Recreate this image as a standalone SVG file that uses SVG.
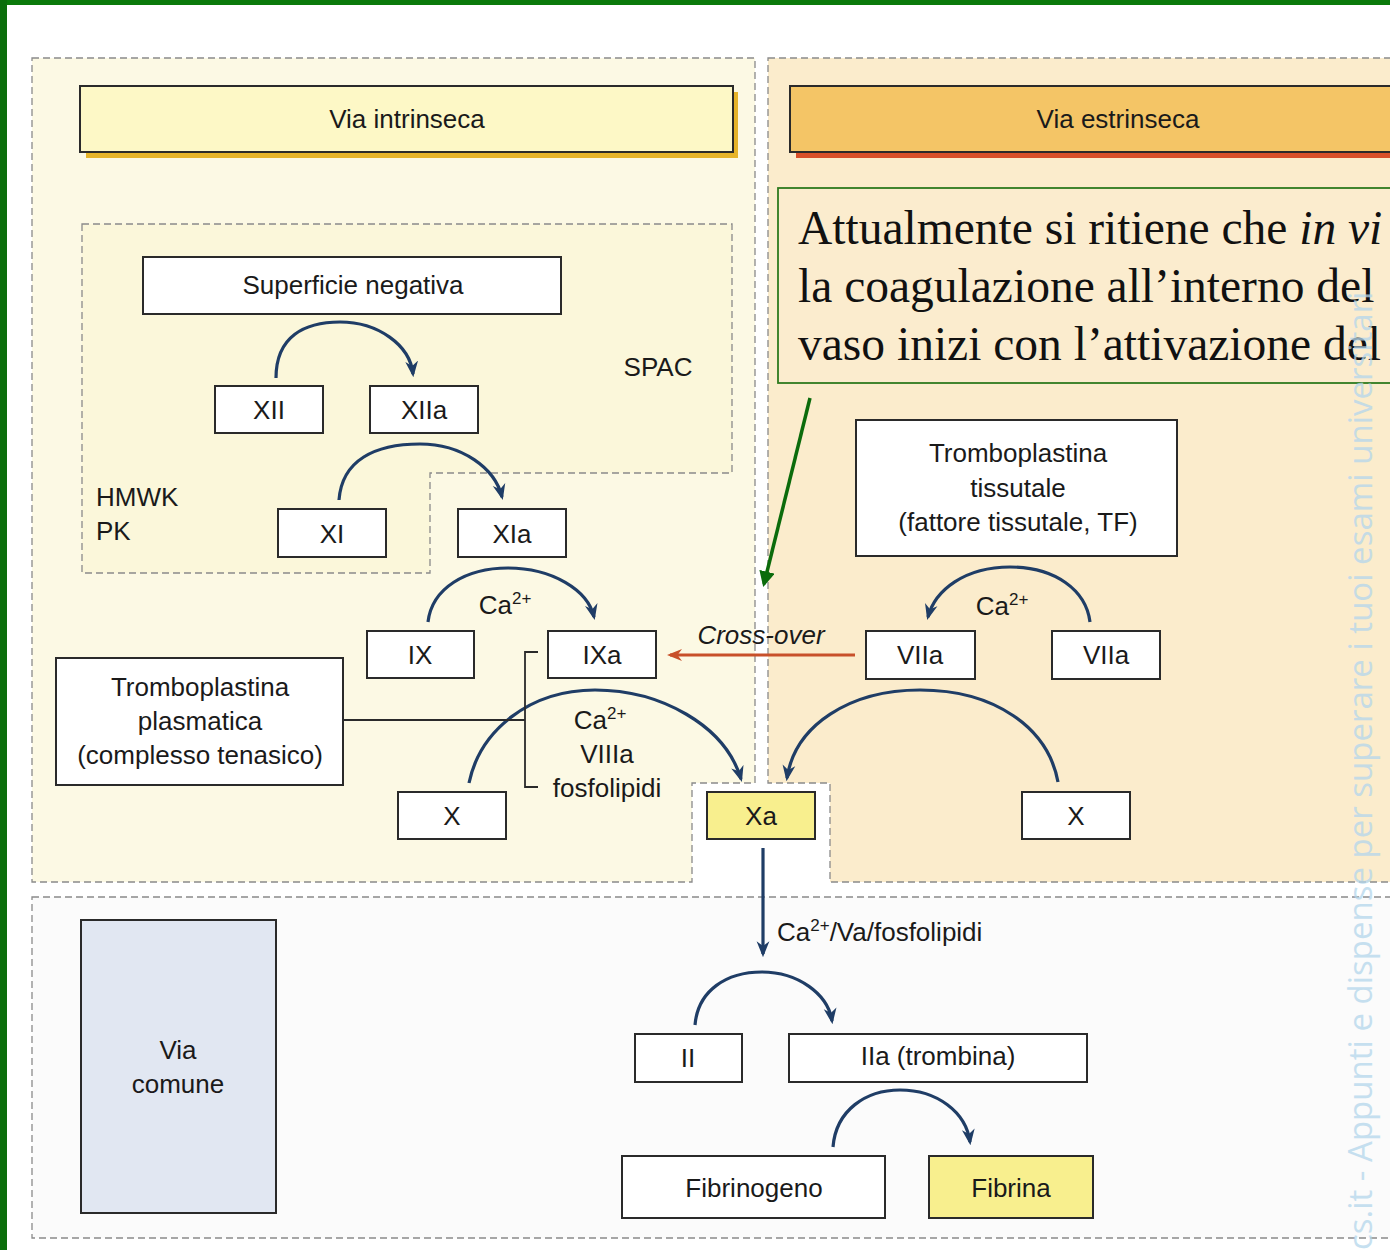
<svg xmlns="http://www.w3.org/2000/svg" width="1390" height="1250" viewBox="0 0 1390 1250">
<defs>
<style>
.t{font-family:"Liberation Sans",Arial,sans-serif;font-size:26px;fill:#1a1a1a;text-anchor:middle}
.tl{font-family:"Liberation Sans",Arial,sans-serif;font-size:26px;fill:#1a1a1a}
.box{fill:#fff;stroke:#2a2a2a;stroke-width:2}
.yel{fill:#f8ef8e;stroke:#2a2a2a;stroke-width:2}
.arc{fill:none;stroke:#1f3d66;stroke-width:3.2}
.dash{stroke:#8a8a8a;stroke-width:1.3;stroke-dasharray:7 4}
.sup{font-size:17px}
.note{font-family:"Liberation Serif","Times New Roman",serif;font-size:47.5px;fill:#111}
</style>
<marker id="ah" viewBox="0 0 10 10" refX="8" refY="5" markerWidth="5" markerHeight="5" orient="auto-start-reverse" markerUnits="strokeWidth">
<path d="M0,1 L10,5 L0,9 L3,5 Z" fill="#1f3d66"/>
</marker>
<marker id="ahr" viewBox="0 0 10 10" refX="8" refY="5" markerWidth="5" markerHeight="5" orient="auto" markerUnits="strokeWidth">
<path d="M0,1 L10,5 L0,9 L3,5 Z" fill="#c8502a"/>
</marker>
<marker id="ahg" viewBox="0 0 10 10" refX="8" refY="5" markerWidth="4.5" markerHeight="4.5" orient="auto" markerUnits="strokeWidth">
<path d="M0,0 L10,5 L0,10 Z" fill="#0b6b0b"/>
</marker>
</defs>

<rect width="1390" height="1250" fill="#ffffff"/>
<!-- green frame -->
<rect x="0" y="0" width="1390" height="5" fill="#0b7a0b"/>
<rect x="0" y="0" width="7" height="1250" fill="#0b6e0b"/>

<!-- panels -->
<g id="panel-intrinseca">
<path d="M32,58 H755 V783 H692 V882 H32 Z" fill="#fcf9e4" class="dash"/>
</g>
<g id="panel-estrinseca">
<path d="M768,58 H1392 V882 H830 V783 H768 Z" fill="#fbeccc" class="dash"/>
</g>
<g id="panel-comune">
<path d="M32,897 H1392 V1238 H32 Z" fill="#fbfbfb" class="dash"/>
</g>
<g id="spac-region">
<path d="M82,224 H732 V473 H430 V573 H82 Z" fill="#fbf7da" class="dash"/>
</g>

<!-- headers -->
<g id="hdr-intrinseca">
<rect x="86" y="92" width="652" height="66" fill="#e6b42a"/>
<rect x="80" y="86" width="653" height="66" fill="#fdf8c6" stroke="#2a2a2a" stroke-width="2"/>
<text class="t" x="407" y="128">Via intrinseca</text>
</g>
<g id="hdr-estrinseca">
<rect x="796" y="92" width="600" height="66" fill="#d8502a"/>
<rect x="790" y="86" width="610" height="66" fill="#f4c566" stroke="#2a2a2a" stroke-width="2"/>
<text class="t" x="1118" y="128">Via estrinseca</text>
</g>

<!-- note box -->
<g id="note">
<rect x="778" y="188" width="620" height="195" fill="#fbecce" stroke="#2e7a1e" stroke-width="1.8"/>
<text class="note" x="798" y="244">Attualmente si ritiene che <tspan font-style="italic">in vi</tspan></text>
<text class="note" x="798" y="302">la coagulazione all’interno del</text>
<text class="note" x="798" y="360">vaso inizi con l’attivazione del</text>
</g>

<!-- labels -->
<text class="t" x="658" y="376">SPAC</text>
<text class="tl" x="96" y="506">HMWK</text>
<text class="tl" x="96" y="540">PK</text>
<text class="t" x="505" y="614">Ca<tspan class="sup" dy="-10">2+</tspan></text>
<text class="t" x="1002" y="615">Ca<tspan class="sup" dy="-10">2+</tspan></text>
<text class="t" x="600" y="729">Ca<tspan class="sup" dy="-10">2+</tspan></text>
<text class="t" x="607" y="763">VIIIa</text>
<text class="t" x="607" y="797">fosfolipidi</text>
<text class="t" x="761" y="644" font-style="italic">Cross-over</text>
<text class="tl" x="777" y="941">Ca<tspan class="sup" dy="-10">2+</tspan><tspan dy="10">/Va/fosfolipidi</tspan></text>

<!-- nodes -->
<g id="n-superficie"><rect class="box" x="143" y="257" width="418" height="57"/><text class="t" x="353" y="294">Superficie negativa</text></g>
<g id="n-XII"><rect class="box" x="215" y="386" width="108" height="47"/><text class="t" x="269" y="419">XII</text></g>
<g id="n-XIIa"><rect class="box" x="370" y="386" width="108" height="47"/><text class="t" x="424" y="419">XIIa</text></g>
<g id="n-XI"><rect class="box" x="278" y="509" width="108" height="48"/><text class="t" x="332" y="543">XI</text></g>
<g id="n-XIa"><rect class="box" x="458" y="509" width="108" height="48"/><text class="t" x="512" y="543">XIa</text></g>
<g id="n-IX"><rect class="box" x="367" y="631" width="107" height="47"/><text class="t" x="420" y="664">IX</text></g>
<g id="n-IXa"><rect class="box" x="548" y="631" width="108" height="47"/><text class="t" x="602" y="664">IXa</text></g>
<g id="n-tplasm"><rect class="box" x="56" y="658" width="287" height="127"/>
<text class="t" x="200" y="696">Tromboplastina</text>
<text class="t" x="200" y="730">plasmatica</text>
<text class="t" x="200" y="764">(complesso tenasico)</text></g>
<g id="n-X-left"><rect class="box" x="398" y="792" width="108" height="47"/><text class="t" x="452" y="825">X</text></g>
<g id="n-Xa"><rect class="yel" x="707" y="792" width="108" height="47"/><text class="t" x="761" y="825">Xa</text></g>
<g id="n-ttiss"><rect class="box" x="856" y="420" width="321" height="136"/>
<text class="t" x="1018" y="462">Tromboplastina</text>
<text class="t" x="1018" y="497">tissutale</text>
<text class="t" x="1018" y="531">(fattore tissutale, TF)</text></g>
<g id="n-VIIa-left"><rect class="box" x="866" y="631" width="109" height="48"/><text class="t" x="920" y="664">VIIa</text></g>
<g id="n-VIIa-right"><rect class="box" x="1052" y="631" width="108" height="48"/><text class="t" x="1106" y="664">VIIa</text></g>
<g id="n-X-right"><rect class="box" x="1022" y="792" width="108" height="47"/><text class="t" x="1076" y="825">X</text></g>
<g id="n-comune"><rect x="81" y="920" width="195" height="293" fill="#e1e7f2" stroke="#2a2a2a" stroke-width="2"/>
<text class="t" x="178" y="1059">Via</text>
<text class="t" x="178" y="1093">comune</text></g>
<g id="n-II"><rect class="box" x="635" y="1034" width="107" height="48"/><text class="t" x="688" y="1067">II</text></g>
<g id="n-IIa"><rect class="box" x="789" y="1034" width="298" height="48"/><text class="t" x="938" y="1065">IIa (trombina)</text></g>
<g id="n-fibrinogeno"><rect class="box" x="622" y="1156" width="263" height="62"/><text class="t" x="754" y="1197">Fibrinogeno</text></g>
<g id="n-fibrina"><rect class="yel" x="929" y="1156" width="164" height="62"/><text class="t" x="1011" y="1197">Fibrina</text></g>

<!-- connectors -->
<g id="connectors">
<path class="arc" d="M276,378 C276,336 305,322 340,322 C378,322 410,345 413,374" marker-end="url(#ah)"/>
<path class="arc" d="M339,500 C342,460 375,444 420,444 C462,444 495,468 502,497" marker-end="url(#ah)"/>
<path class="arc" d="M428,622 C432,588 466,568 508,568 C552,568 588,590 594,617" marker-end="url(#ah)"/>
<path class="arc" d="M469,783 C480,730 530,690 595,690 C660,690 725,725 741,779" marker-end="url(#ah)"/>
<path class="arc" d="M1090,622 C1086,590 1055,567 1010,567 C965,567 935,590 928,617" marker-end="url(#ah)"/>
<path class="arc" d="M1058,782 C1048,728 995,690 920,690 C850,690 795,725 787,778" marker-end="url(#ah)"/>
<line class="arc" x1="763" y1="848" x2="763" y2="954" marker-end="url(#ah)"/>
<path class="arc" d="M695,1025 C698,990 727,972 762,972 C798,972 828,994 832,1021" marker-end="url(#ah)"/>
<path class="arc" d="M833,1147 C836,1110 866,1090 900,1090 C937,1090 966,1112 970,1142" marker-end="url(#ah)"/>
<line x1="855" y1="655" x2="670" y2="655" stroke="#c8502a" stroke-width="3" marker-end="url(#ahr)"/>
<line x1="810" y1="398" x2="764" y2="584" stroke="#0b6b0b" stroke-width="3.5" marker-end="url(#ahg)"/>
<path d="M343,720 H525 M538,652 H525 V787 H538" fill="none" stroke="#2a2a2a" stroke-width="1.8"/>
</g>

<!-- watermark -->
<text transform="translate(1372,1250) rotate(-90)" font-family="'Open Sans',sans-serif" font-size="33" fill="#b4d6ec" opacity="0.75">cs.it  - Appunti e dispense per superare i tuoi esami universitari</text>
</svg>
